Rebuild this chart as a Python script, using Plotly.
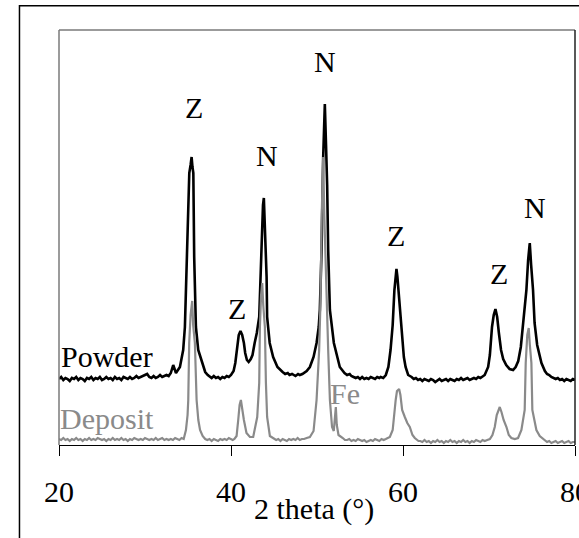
import plotly.graph_objects as go

# Diffraction scans: 2-theta (degrees) and intensity (arbitrary units)
powder_2theta = [
    20.0, 20.25, 20.5, 20.75, 21.0, 21.25, 21.5, 21.75, 22.0, 22.25, 22.5, 22.75, 23.0, 23.25, 23.5, 23.75, 24.0, 24.25, 24.5, 24.75,
    25.0, 25.25, 25.5, 25.75, 26.0, 26.25, 26.5, 26.75, 27.0, 27.25, 27.5, 27.75, 28.0, 28.25, 28.5, 28.75, 29.0, 29.25, 29.5, 29.75,
    30.0, 30.25, 30.5, 30.75, 31.0, 31.25, 31.5, 31.75, 32.0, 32.25, 32.5, 32.75, 33.0, 33.28, 33.6, 34.06, 34.44, 34.64, 34.84, 35.0,
    35.15, 35.3, 35.42, 35.52, 35.62, 35.72, 35.92, 36.19, 36.77, 37.0, 37.3, 37.55, 37.75, 38.0, 38.25, 38.5, 38.75, 39.0, 39.25, 39.5,
    39.75, 40.0, 40.3, 40.5, 40.7, 40.9, 41.1, 41.3, 41.5, 41.65, 41.85, 42.05, 42.3, 42.5, 42.75, 43.0, 43.28, 43.44, 43.6, 43.72,
    43.82, 43.95, 44.14, 44.2, 44.5, 44.9, 45.4, 46.0, 46.3, 46.6, 46.8, 47.1, 47.5, 47.8, 48.0, 48.3, 48.5, 48.8, 49.17, 49.6,
    49.95, 50.2, 50.33, 50.53, 50.72, 50.91, 51.05, 51.18, 51.3, 51.5, 51.96, 52.3, 52.65, 53.2, 53.5, 53.8, 54.0, 54.25, 54.5, 54.75,
    55.0, 55.25, 55.5, 55.75, 56.0, 56.25, 56.5, 56.75, 57.0, 57.25, 57.4, 57.7, 58.0, 58.3, 58.55, 58.8, 59.0, 59.15, 59.24, 59.35,
    59.5, 59.65, 59.78, 59.9, 60.1, 60.3, 60.6, 61.0, 61.25, 61.5, 61.75, 62.0, 62.25, 62.5, 62.75, 63.0, 63.25, 63.5, 63.75, 64.0,
    64.25, 64.5, 64.75, 65.0, 65.25, 65.5, 65.75, 66.0, 66.25, 66.5, 66.75, 67.0, 67.25, 67.5, 67.75, 68.0, 68.25, 68.5, 68.75, 69.0,
    69.5, 69.9, 70.1, 70.35, 70.55, 70.75, 70.95, 71.15, 71.4, 71.65, 72.0, 72.4, 72.8, 73.1, 73.4, 73.7, 73.96, 74.2, 74.35, 74.55,
    74.74, 74.9, 75.12, 75.3, 75.6, 76.1, 76.5, 76.75, 77.0, 77.25, 77.5, 77.75, 78.0, 78.25, 78.5, 78.75, 79.0, 79.25, 79.5, 79.75,
    80.0,
]
powder_counts = [
    66, 68, 65, 67, 66, 64, 67, 66, 68, 65, 67, 66, 64, 67, 66, 68, 65, 67, 66, 68,
    65, 66, 68, 66, 67, 65, 68, 66, 67, 65, 68, 67, 66, 68, 66, 67, 69, 67, 68, 69,
    70, 71, 68, 67, 69, 67, 68, 70, 68, 69, 70, 69, 72, 80, 72, 78, 95, 118, 188, 240,
    272, 280, 288, 278, 272, 188, 118, 95, 78, 73, 70, 68, 67, 69, 67, 68, 66, 68, 67, 69,
    68, 70, 74, 82, 95, 110, 114, 110, 102, 92, 85, 83, 86, 90, 102, 112, 128, 168, 215, 240,
    247, 215, 168, 128, 102, 88, 78, 73, 71, 72, 70, 71, 69, 71, 70, 71, 72, 74, 78, 88,
    102, 118, 135, 195, 288, 341, 300, 260, 195, 135, 102, 90, 78, 72, 70, 71, 69, 68, 67, 68,
    66, 68, 66, 67, 66, 68, 67, 66, 68, 67, 68, 67, 70, 78, 95, 120, 155, 172, 176, 168,
    150, 135, 122, 105, 88, 78, 70, 68, 66, 67, 65, 66, 64, 66, 65, 64, 66, 65, 63, 65,
    66, 64, 65, 66, 64, 66, 65, 64, 66, 65, 67, 65, 66, 67, 65, 66, 67, 66, 68, 67,
    70, 78, 90, 118, 130, 136, 128, 112, 95, 86, 80, 76, 75, 78, 84, 98, 122, 140, 155, 185,
    202, 180, 155, 122, 100, 82, 74, 71, 70, 68, 67, 66, 67, 65, 66, 64, 66, 65, 64, 66,
    65,
]

deposit_2theta = [
    20.0, 20.25, 20.5, 20.75, 21.0, 21.25, 21.5, 21.75, 22.0, 22.25, 22.5, 22.75, 23.0, 23.25, 23.5, 23.75, 24.0, 24.25, 24.5, 24.75,
    25.0, 25.25, 25.5, 25.75, 26.0, 26.25, 26.5, 26.75, 27.0, 27.25, 27.5, 27.75, 28.0, 28.25, 28.5, 28.75, 29.0, 29.25, 29.5, 29.75,
    30.0, 30.25, 30.5, 30.75, 31.0, 31.25, 31.5, 31.75, 32.0, 32.25, 32.5, 32.75, 33.0, 33.25, 33.5, 33.75, 34.0, 34.25, 34.5, 34.76,
    34.95, 35.03, 35.14, 35.3, 35.49, 35.6, 35.8, 36.0, 36.2, 36.4, 36.7, 37.0, 37.25, 37.5, 37.75, 38.0, 38.25, 38.5, 38.75, 39.0,
    39.25, 39.5, 39.75, 40.0, 40.2, 40.4, 40.65, 40.84, 41.0, 41.15, 41.3, 41.5, 41.8, 42.2, 42.58, 43.05, 43.28, 43.36, 43.5, 43.63,
    43.75, 43.94, 44.06, 44.2, 44.52, 45.0, 45.25, 45.5, 45.75, 46.0, 46.25, 46.5, 46.75, 47.0, 47.25, 47.5, 47.75, 48.0, 48.25, 48.5,
    48.8, 49.17, 49.6, 49.95, 50.25, 50.41, 50.55, 50.72, 50.85, 51.1, 51.3, 51.5, 51.75, 51.95, 52.1, 52.19, 52.3, 52.5, 53.0, 53.25,
    53.5, 53.75, 54.0, 54.25, 54.5, 54.75, 55.0, 55.25, 55.5, 55.75, 56.0, 56.25, 56.5, 56.75, 57.0, 57.25, 57.5, 57.75, 58.0, 58.47,
    58.8, 58.93, 59.15, 59.3, 59.55, 59.7, 59.9, 60.21, 60.5, 60.79, 61.1, 61.37, 61.6, 61.8, 62.0, 62.25, 62.5, 62.75, 63.0, 63.25,
    63.5, 63.75, 64.0, 64.25, 64.5, 64.75, 65.0, 65.25, 65.5, 65.75, 66.0, 66.25, 66.5, 66.75, 67.0, 67.25, 67.5, 67.75, 68.0, 68.25,
    68.5, 68.75, 69.0, 69.25, 69.5, 69.8, 70.1, 70.4, 70.67, 70.9, 71.1, 71.25, 71.45, 71.7, 72.03, 72.3, 72.6, 73.0, 73.38, 73.77,
    74.15, 74.27, 74.45, 74.62, 74.75, 74.93, 75.04, 75.3, 75.51, 75.9, 76.28, 76.5, 76.75, 77.0, 77.25, 77.5, 77.75, 78.0, 78.25, 78.5,
    78.75, 79.0, 79.25, 79.5, 79.75, 80.0,
]
deposit_counts = [
    6, 5, 7, 5, 6, 4, 6, 5, 7, 5, 6, 4, 6, 5, 7, 5, 6, 5, 7, 6,
    5, 6, 4, 6, 5, 7, 5, 6, 5, 7, 5, 6, 4, 6, 5, 7, 6, 5, 6, 5,
    7, 6, 5, 6, 5, 7, 5, 6, 7, 5, 6, 5, 6, 5, 7, 6, 5, 7, 6, 15,
    30, 45, 102, 130, 144, 120, 102, 45, 25, 15, 9, 6, 5, 6, 4, 6, 5, 4, 6, 5,
    6, 5, 7, 6, 5, 6, 9, 25, 40, 45, 35, 25, 12, 8, 8, 28, 62, 118, 150, 162,
    140, 118, 62, 28, 9, 6, 5, 6, 4, 6, 5, 4, 6, 5, 6, 5, 7, 5, 6, 6,
    7, 8, 14, 45, 95, 145, 230, 288, 230, 145, 95, 45, 18, 14, 25, 38, 20, 10, 7, 5,
    5, 6, 4, 5, 4, 6, 5, 4, 5, 3, 4, 5, 4, 6, 5, 4, 6, 5, 6, 8,
    15, 28, 45, 54, 56, 50, 35, 28, 22, 18, 10, 7, 5, 4, 4, 3, 5, 3, 4, 2,
    4, 3, 5, 3, 4, 2, 4, 3, 5, 3, 4, 2, 4, 3, 5, 3, 4, 2, 4, 3,
    5, 4, 3, 5, 4, 5, 6, 10, 18, 30, 36, 38, 33, 25, 18, 10, 7, 6, 7, 15,
    35, 82, 110, 117, 100, 82, 35, 22, 15, 9, 6, 4, 3, 4, 2, 3, 4, 2, 3, 4,
    2, 3, 4, 2, 3, 3,
]
assert len(powder_2theta) == len(powder_counts)
assert len(deposit_2theta) == len(deposit_counts)

# Phase labels: text, 2-theta, intensity, colour
label_text = ["Z", "Z", "N", "N", "Z", "Z", "N", "Fe"]
label_2theta = [35.72, 40.72, 44.14, 50.91, 59.13, 71.17, 75.3, 53.24]
label_counts = [338, 137, 290, 384, 210, 172, 238, 52]
label_colour = ["black"] * 7 + ["#8a8a8a"]

series_names = ["Powder", "Deposit"]
series_label_pos = [(25.63, 89), (25.63, 27)]
series_colour = ["black", "#8a8a8a"]

x_ticks = [20, 40, 60, 80]
x_title = "2 theta (°)"

FONT = "Liberation Serif"

fig = go.Figure()
fig.add_trace(go.Scatter(x=powder_2theta, y=powder_counts, mode="lines",
                         line=dict(color=series_colour[0], width=2.6),
                         name=series_names[0], showlegend=False))
fig.add_trace(go.Scatter(x=deposit_2theta, y=deposit_counts, mode="lines",
                         line=dict(color=series_colour[1], width=2.2),
                         name=series_names[1], showlegend=False))

for t, xv, yv, c in zip(label_text, label_2theta, label_counts, label_colour):
    fig.add_annotation(x=xv, y=yv, text=t, showarrow=False,
                       xanchor="center", yanchor="middle",
                       font=dict(family=FONT, size=30, color=c))

for name, (xv, yv), c in zip(series_names, series_label_pos, series_colour):
    fig.add_annotation(x=xv, y=yv, text=name, showarrow=False,
                       xanchor="center", yanchor="middle",
                       font=dict(family=FONT, size=30, color=c))

# axis title
fig.add_annotation(xref="paper", yref="paper", x=0.494, y=-0.155, text=x_title,
                   showarrow=False, xanchor="center", yanchor="middle",
                   font=dict(family=FONT, size=30, color="black"))

# plot frame: grey top/left, dark right
fig.add_shape(type="line", xref="paper", yref="paper", x0=0, x1=1, y0=1, y1=1,
              line=dict(color="#7a7a7a", width=1.5))
fig.add_shape(type="line", xref="paper", yref="paper", x0=0, x1=0, y0=0, y1=1,
              line=dict(color="#7a7a7a", width=1.5))
fig.add_shape(type="line", xref="paper", yref="paper", x0=1, x1=1, y0=0, y1=1,
              line=dict(color="#222222", width=1.5))
# outer chart border
fig.add_shape(type="rect", xref="paper", yref="paper",
              x0=-0.0766, x1=1.2, y0=-0.4, y1=1.0586,
              line=dict(color="black", width=1.5), fillcolor="rgba(0,0,0,0)")

fig.update_xaxes(range=[20, 80], tickvals=x_ticks, ticks="outside", ticklen=10,
                 tickwidth=1, tickcolor="black", showline=True, linecolor="black",
                 linewidth=1.2, showgrid=False, zeroline=False, automargin=False,
                 tickfont=dict(family=FONT, size=30, color="black"),
                 ticklabelstandoff=10, ticklabeloverflow="allow")
fig.update_yaxes(range=[0, 415], showticklabels=False, ticks="", showgrid=False,
                 zeroline=False, showline=False, automargin=False)

fig.update_layout(template="none", width=579, height=538,
                  margin=dict(l=59, r=4, t=30, b=93),
                  paper_bgcolor="white", plot_bgcolor="white",
                  font=dict(family=FONT, color="black"))

fig.write_html("out.html")
